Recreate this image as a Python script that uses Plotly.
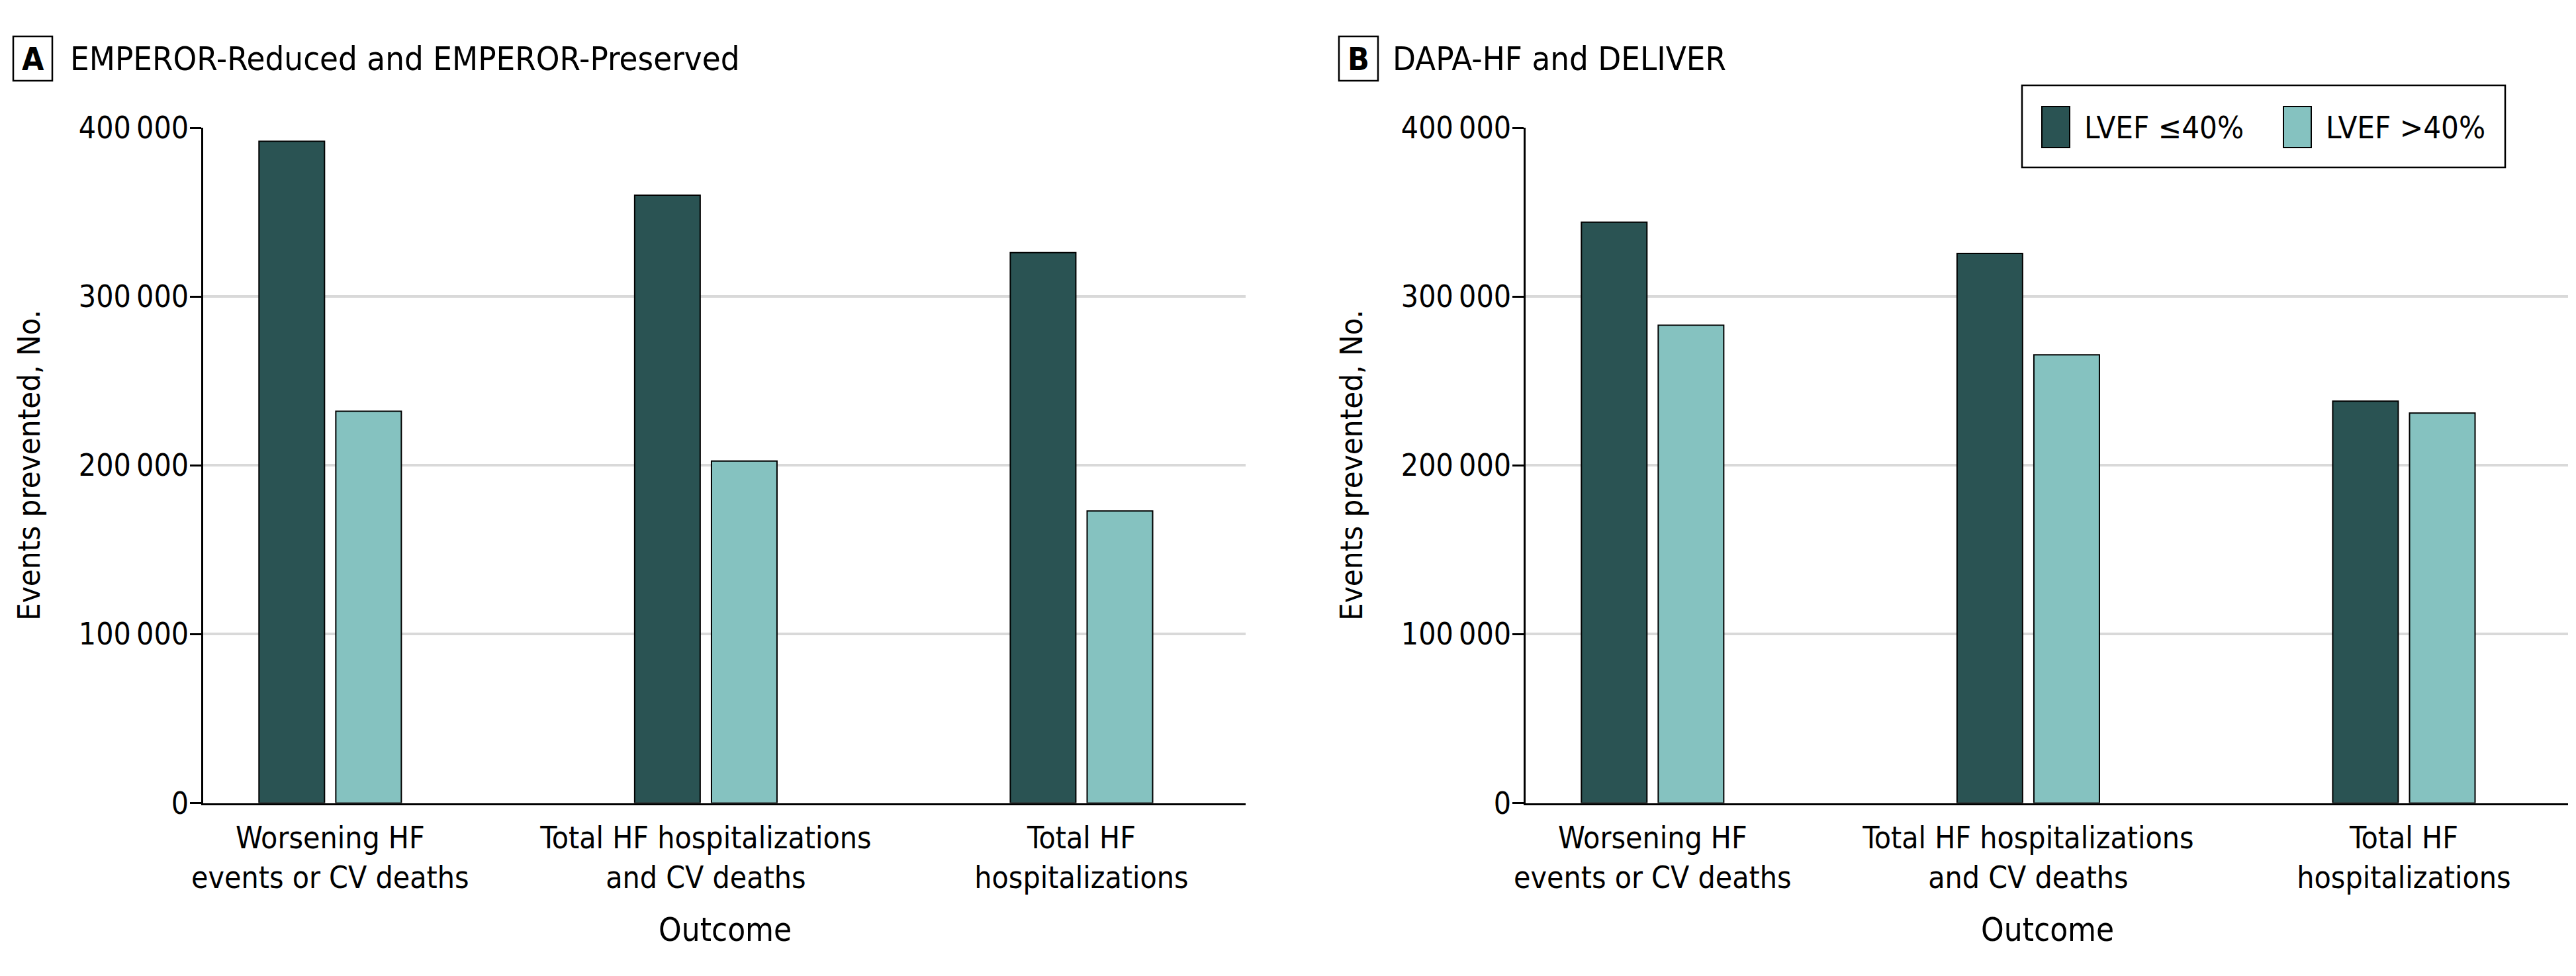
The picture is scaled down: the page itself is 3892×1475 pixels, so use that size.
import plotly.graph_objects as go

W, H = 3892, 1475
OFF = 8  # browser body margin
FW, FH = W - 2 * OFF, H - 2 * OFF

categories = ["Worsening HF<br>events or CV deaths",
              "Total HF hospitalizations<br>and CV deaths",
              "Total HF<br>hospitalizations"]
series_names = ["LVEF ≤40%", "LVEF >40%"]
emperor_reduced = [392000, 360000, 326000]
emperor_preserved = [232000, 202500, 173000]
dapa_reduced = [344000, 325500, 238000]
dapa_preserved = [283000, 265500, 231000]
panel_titles = ["EMPEROR-Reduced and EMPEROR-Preserved", "DAPA-HF and DELIVER"]
panel_letters = ["A", "B"]
y_tickvals = [0, 100000, 200000, 300000, 400000]
y_ticktext = ["0", "100\u2009000", "200\u2009000", "300\u2009000", "400\u2009000"]

DARK = "#2A5353"
LIGHT = "#85C2C0"
FONT = "DejaVu Sans Condensed, Liberation Sans Narrow, sans-serif"
FS = 46

def px_x(p):
    return (p - OFF) / FW

def px_y(p):
    return 1 - (p - OFF) / FH

fig = go.Figure()

panels = [
    (emperor_reduced, emperor_preserved, "x", "y"),
    (dapa_reduced, dapa_preserved, "x2", "y2"),
]
for i, (red, pres, xa, ya) in enumerate(panels):
    fig.add_trace(go.Bar(x=categories, y=red, name=series_names[0], xaxis=xa, yaxis=ya,
                         marker=dict(color=DARK, line=dict(color="black", width=2)),
                         showlegend=False))
    fig.add_trace(go.Bar(x=categories, y=pres, name=series_names[1], xaxis=xa, yaxis=ya,
                         marker=dict(color=LIGHT, line=dict(color="black", width=2)),
                         showlegend=False))

xdomA = [px_x(307), px_x(1882)]
xdomB = [px_x(2305), px_x(3880)]
ydom = [px_y(1213.5), px_y(193)]
xr = [-0.338, 2.437]

xcommon = dict(type="category", categoryarray=categories, range=xr, showline=True,
               linecolor="black", linewidth=3, ticks="", showgrid=False, zeroline=False,
               automargin=False, ticklabelstandoff=10,
               tickfont=dict(family=FONT, size=FS, color="black"), fixedrange=True)
ycommon = dict(range=[0, 400000], tickvals=y_tickvals, ticktext=y_ticktext,
               showline=True, linecolor="black", linewidth=2.5, ticks="outside",
               ticklen=17, tickwidth=2.5, tickcolor="black", showgrid=True,
               gridcolor="#D9D9D9", gridwidth=4, zeroline=False, automargin=False,
               ticklabelstandoff=-7,
               tickfont=dict(family=FONT, size=FS, color="black"), fixedrange=True)

fig.update_layout(
    width=FW, height=FH,
    margin=dict(l=0, r=0, t=0, b=0, pad=0, autoexpand=False),
    paper_bgcolor="white", plot_bgcolor="white",
    barmode="group", bargap=0.591, bargroupgap=0.147,
    font=dict(family=FONT, size=FS, color="black"),
    xaxis=dict(domain=xdomA, anchor="y", **xcommon),
    yaxis=dict(domain=ydom, anchor="x", **ycommon),
    xaxis2=dict(domain=xdomB, anchor="y2", **xcommon),
    yaxis2=dict(domain=ydom, anchor="x2", **ycommon),
    showlegend=False,
)

shapes = []
annotations = []
# panel letter boxes and titles
for letter, title, bx0, tx in [(panel_letters[0], panel_titles[0], 20, 104),
                               (panel_letters[1], panel_titles[1], 2023, 2102)]:
    shapes.append(dict(type="rect", xref="paper", yref="paper",
                       x0=px_x(bx0), x1=px_x(bx0 + 59), y0=px_y(122), y1=px_y(55),
                       line=dict(color="black", width=2.5), fillcolor="white"))
    annotations.append(dict(text="<b>" + letter + "</b>", xref="paper", yref="paper",
                            x=px_x(bx0 + 29.5), y=px_y(89), xanchor="center", yanchor="middle",
                            showarrow=False, font=dict(family=FONT, size=48, color="black")))
    annotations.append(dict(text=title, xref="paper", yref="paper",
                            x=px_x(tx), y=px_y(89), xanchor="left", yanchor="middle",
                            showarrow=False, font=dict(family=FONT, size=50.5, color="black")))

# axis titles
for cx, px_center in [(44, 1095), (2042, 3093)]:
    annotations.append(dict(text="Events prevented, No.", xref="paper", yref="paper",
                            x=px_x(cx), y=px_y(703), xanchor="center", yanchor="middle",
                            textangle=-90, showarrow=False,
                            font=dict(family=FONT, size=47, color="black")))
    annotations.append(dict(text="Outcome", xref="paper", yref="paper",
                            x=px_x(px_center), y=px_y(1405), xanchor="center", yanchor="middle",
                            showarrow=False, font=dict(family=FONT, size=49, color="black")))

# legend (drawn manually for tall swatches)
shapes.append(dict(type="rect", xref="paper", yref="paper",
                   x0=px_x(3055), x1=px_x(3785), y0=px_y(253), y1=px_y(129),
                   line=dict(color="black", width=2.5), fillcolor="white"))
for sx, col, name in [(3085, DARK, series_names[0]), (3450, LIGHT, series_names[1])]:
    shapes.append(dict(type="rect", xref="paper", yref="paper",
                       x0=px_x(sx), x1=px_x(sx + 42), y0=px_y(223), y1=px_y(161),
                       line=dict(color="black", width=2), fillcolor=col))
    annotations.append(dict(text=name, xref="paper", yref="paper",
                            x=px_x(sx + 62), y=px_y(192), xanchor="left", yanchor="middle",
                            showarrow=False, font=dict(family=FONT, size=47, color="black")))

fig.update_layout(shapes=shapes, annotations=annotations)
fig.write_html("out.html")
